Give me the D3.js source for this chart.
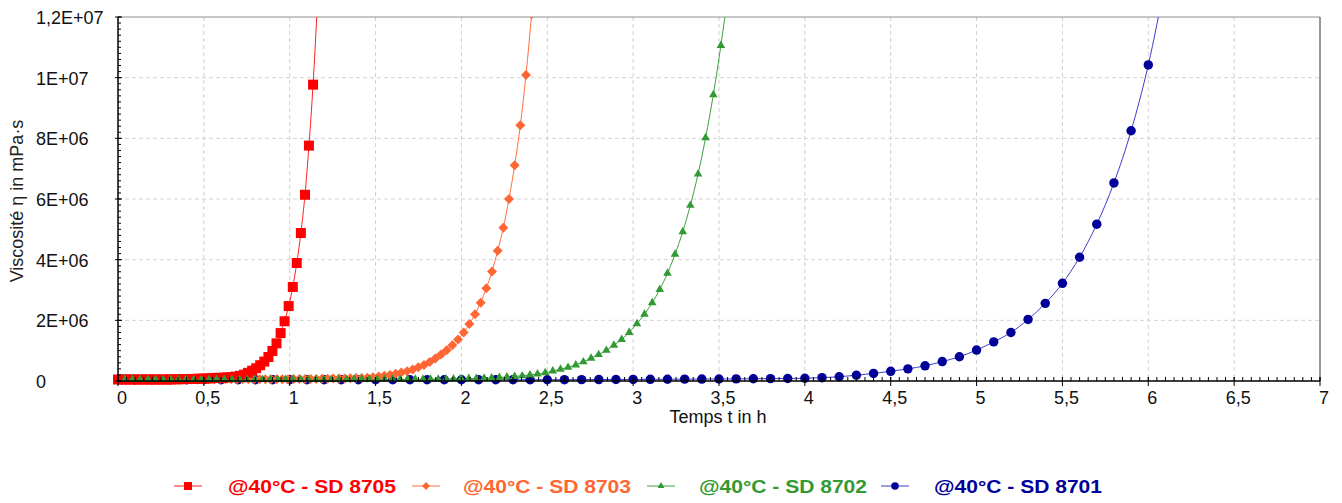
<!DOCTYPE html>
<html>
<head>
<meta charset="utf-8">
<script src="https://cdn.jsdelivr.net/npm/d3@7"></script>
<style>
  body { margin: 0; background: #fff; }
  text { font-family: "Liberation Sans", Arial, sans-serif; }
</style>
</head>
<body>
<svg id="chart" width="1342" height="503"></svg>
<script>
// time in h, viscosity in millions of mPa·s
var redT = [0, 0.024, 0.047, 0.071, 0.095, 0.118, 0.142, 0.166, 0.189, 0.213, 0.237, 0.26, 0.284, 0.308, 0.331, 0.355, 0.379, 0.402, 0.426, 0.45, 0.473, 0.497, 0.521, 0.544, 0.568, 0.592, 0.615, 0.639, 0.663, 0.686, 0.71, 0.734, 0.757, 0.781, 0.805, 0.828, 0.852, 0.876, 0.899, 0.923, 0.947, 0.97, 0.994, 1.018, 1.041, 1.065, 1.089, 1.112, 1.136, 1.16]
var redV = [0.05, 0.05, 0.05, 0.05, 0.05, 0.05, 0.05, 0.05, 0.05, 0.05, 0.05, 0.05, 0.05, 0.055, 0.055, 0.06, 0.06, 0.065, 0.065, 0.07, 0.075, 0.08, 0.085, 0.09, 0.1, 0.105, 0.11, 0.12, 0.13, 0.145, 0.17, 0.21, 0.27, 0.34, 0.42, 0.52, 0.64, 0.79, 0.99, 1.24, 1.58, 1.97, 2.47, 3.1, 3.89, 4.88, 6.14, 7.76, 9.77, 12.3]

var orangeT = [0, 0.033, 0.066, 0.099, 0.132, 0.165, 0.198, 0.231, 0.264, 0.297, 0.33, 0.363, 0.396, 0.429, 0.462, 0.495, 0.528, 0.561, 0.594, 0.627, 0.66, 0.693, 0.726, 0.759, 0.792, 0.825, 0.858, 0.891, 0.924, 0.957, 0.99, 1.023, 1.056, 1.089, 1.122, 1.155, 1.188, 1.221, 1.254, 1.287, 1.32, 1.353, 1.386, 1.419, 1.452, 1.485, 1.518, 1.551, 1.584, 1.617, 1.65, 1.683, 1.716, 1.749, 1.782, 1.815, 1.848, 1.881, 1.914, 1.947, 1.98, 2.013, 2.046, 2.079, 2.112, 2.145, 2.178, 2.211, 2.244, 2.277, 2.31, 2.343, 2.376, 2.409]
var orangeV = [0.05, 0.05, 0.05, 0.05, 0.05, 0.05, 0.05, 0.05, 0.05, 0.05, 0.05, 0.05, 0.05, 0.05, 0.05, 0.055, 0.055, 0.055, 0.055, 0.055, 0.055, 0.055, 0.055, 0.055, 0.055, 0.06, 0.06, 0.06, 0.06, 0.06, 0.06, 0.065, 0.065, 0.07, 0.07, 0.07, 0.075, 0.075, 0.08, 0.08, 0.085, 0.09, 0.095, 0.1, 0.11, 0.125, 0.145, 0.17, 0.2, 0.24, 0.28, 0.32, 0.38, 0.45, 0.53, 0.63, 0.74, 0.87, 1.01, 1.18, 1.37, 1.6, 1.88, 2.2, 2.58, 3.06, 3.61, 4.29, 5.05, 6.0, 7.11, 8.43, 10.09, 12.1]

var greenT = [0.04, 0.085, 0.129, 0.174, 0.218, 0.263, 0.307, 0.352, 0.396, 0.441, 0.485, 0.53, 0.574, 0.619, 0.663, 0.708, 0.752, 0.797, 0.841, 0.886, 0.93, 0.975, 1.019, 1.064, 1.108, 1.153, 1.197, 1.242, 1.286, 1.331, 1.375, 1.42, 1.464, 1.509, 1.553, 1.598, 1.642, 1.687, 1.731, 1.776, 1.82, 1.865, 1.909, 1.954, 1.998, 2.043, 2.087, 2.132, 2.176, 2.221, 2.265, 2.31, 2.354, 2.399, 2.443, 2.488, 2.532, 2.577, 2.621, 2.666, 2.71, 2.755, 2.799, 2.844, 2.888, 2.933, 2.977, 3.022, 3.066, 3.111, 3.155, 3.2, 3.244, 3.289, 3.333, 3.378, 3.422, 3.467, 3.511, 3.556]
var greenV = [0.05, 0.05, 0.05, 0.05, 0.05, 0.05, 0.05, 0.05, 0.05, 0.05, 0.05, 0.05, 0.05, 0.05, 0.05, 0.05, 0.05, 0.05, 0.05, 0.05, 0.05, 0.05, 0.05, 0.05, 0.05, 0.05, 0.05, 0.05, 0.05, 0.05, 0.055, 0.055, 0.055, 0.055, 0.055, 0.055, 0.055, 0.055, 0.055, 0.055, 0.06, 0.06, 0.065, 0.07, 0.075, 0.08, 0.085, 0.09, 0.1, 0.115, 0.13, 0.15, 0.17, 0.2, 0.23, 0.27, 0.33, 0.39, 0.45, 0.53, 0.63, 0.75, 0.87, 1.01, 1.18, 1.37, 1.6, 1.89, 2.2, 2.58, 3.02, 3.55, 4.18, 4.92, 5.79, 6.82, 8.02, 9.44, 11.06, 12.9]

var blueT = [0, 0.1, 0.2, 0.3, 0.4, 0.5, 0.6, 0.7, 0.8, 0.9, 1, 1.1, 1.2, 1.3, 1.4, 1.5, 1.6, 1.7, 1.8, 1.9, 2, 2.1, 2.2, 2.3, 2.4, 2.5, 2.6, 2.7, 2.8, 2.9, 3, 3.1, 3.2, 3.3, 3.4, 3.5, 3.6, 3.7, 3.8, 3.9, 4, 4.1, 4.2, 4.3, 4.4, 4.5, 4.6, 4.7, 4.8, 4.9, 5, 5.1, 5.2, 5.3, 5.4, 5.5, 5.6, 5.7, 5.8, 5.9, 6, 6.1]
var blueV = [0.04, 0.04, 0.04, 0.04, 0.04, 0.04, 0.04, 0.04, 0.04, 0.04, 0.04, 0.04, 0.04, 0.04, 0.04, 0.04, 0.04, 0.04, 0.04, 0.04, 0.04, 0.04, 0.04, 0.04, 0.04, 0.042, 0.044, 0.046, 0.048, 0.05, 0.052, 0.055, 0.058, 0.061, 0.064, 0.067, 0.07, 0.074, 0.078, 0.083, 0.09, 0.11, 0.14, 0.19, 0.25, 0.32, 0.4, 0.5, 0.64, 0.8, 1.02, 1.29, 1.6, 2.03, 2.56, 3.22, 4.08, 5.17, 6.53, 8.25, 10.42, 13.2]

var seriesNames = ["@40°C - SD 8705", "@40°C - SD 8703", "@40°C - SD 8702", "@40°C - SD 8701"]

var xTicks = [0, 0.5, 1, 1.5, 2, 2.5, 3, 3.5, 4, 4.5, 5, 5.5, 6, 6.5, 7]
var xTickLabels = ["0", "0,5", "1", "1,5", "2", "2,5", "3", "3,5", "4", "4,5", "5", "5,5", "6", "6,5", "7"]
var yTicks = [0, 2, 4, 6, 8, 10, 12]
var yTickLabels = ["0", "2E+06", "4E+06", "6E+06", "8E+06", "1E+07", "1,2E+07"]

var margin = {top: 17, right: 22, bottom: 122, left: 118}
var width = 1342 - margin.left - margin.right
var height = 503 - margin.top - margin.bottom

var svg = d3.select("#chart")
var g = svg.append("g").attr("transform", `translate(${margin.left},${margin.top})`)

var x = d3.scaleLinear().domain([0, 7]).range([0, width])
var y = d3.scaleLinear().domain([0, 12]).range([height, 0])

var series = [
  {name: seriesNames[0], t: redT, v: redV, color: "#ff0000", line: "#ff2020", marker: "square"},
  {name: seriesNames[1], t: orangeT, v: orangeV, color: "#ff6633", line: "#ff7040", marker: "diamond"},
  {name: seriesNames[2], t: greenT, v: greenV, color: "#339933", line: "#40a040", marker: "triangle"},
  {name: seriesNames[3], t: blueT, v: blueV, color: "#000099", line: "#3c3ccc", marker: "circle"}
]

function markerPath(kind, big) {
  var k = big ? 1 : 0.8
  if (kind === "square") return d3.symbol(d3.symbolSquare, 100 * k * k)()
  if (kind === "diamond") return d3.symbol(d3.symbolSquare, 50 * k * k)()
  if (kind === "triangle") return d3.symbol(d3.symbolTriangle, 32 * k * k)()
  return d3.symbol(d3.symbolCircle, 70 * k * k)()
}

// grid
g.append("g").selectAll("line")
  .data(xTicks.filter(d => d > 0 && d < 7))
  .enter().append("line")
  .attr("x1", d => x(d)).attr("x2", d => x(d))
  .attr("y1", 0).attr("y2", height)
  .attr("stroke", "#cfcfcf").attr("stroke-dasharray", "4,3")

g.append("g").selectAll("line")
  .data(yTicks.filter(d => d > 0 && d < 12))
  .enter().append("line")
  .attr("x1", 0).attr("x2", width)
  .attr("y1", d => y(d)).attr("y2", d => y(d))
  .attr("stroke", "#d3d3d3").attr("stroke-dasharray", "4,3")

// frame
g.append("line").attr("x1", 0).attr("x2", width).attr("y1", 0).attr("y2", 0)
  .attr("stroke", "#8c8c8c")
g.append("line").attr("x1", width).attr("x2", width).attr("y1", 0).attr("y2", height)
  .attr("stroke", "#333")

// series
svg.append("defs").append("clipPath").attr("id", "plotclip")
  .append("rect").attr("x", -10).attr("y", 0).attr("width", width + 20).attr("height", height + 20)

var plot = g.append("g").attr("clip-path", "url(#plotclip)")
var drawOrder = [3, 1, 0, 2]

var line = d3.line()
  .x(d => x(d[0]))
  .y(d => y(d[1]))
  .curve(d3.curveMonotoneX)

drawOrder.forEach(function(i) {
  var s = series[i]
  var pts = s.t.map((t, j) => [t, s.v[j]])
  plot.append("path")
    .datum(pts)
    .attr("d", line)
    .attr("fill", "none")
    .attr("stroke", s.line)
    .attr("stroke-width", 1)
})

drawOrder.forEach(function(i) {
  var s = series[i]
  var pts = s.t.map((t, j) => [t, s.v[j]])
  plot.append("g").selectAll("path")
    .data(pts)
    .enter().append("path")
    .attr("d", markerPath(s.marker, true))
    .attr("transform", d => `translate(${x(d[0])},${y(d[1])})` + (s.marker === "diamond" ? " rotate(45)" : ""))
    .attr("fill", s.color)
})

// axes
var xMinor = d3.range(0, 7.001, 0.05)
g.append("g").selectAll("line")
  .data(xMinor)
  .enter().append("line")
  .attr("x1", d => x(d)).attr("x2", d => x(d))
  .attr("y1", height - 4).attr("y2", height)
  .attr("stroke", "#000")
g.append("g").selectAll("line")
  .data(xTicks)
  .enter().append("line")
  .attr("x1", d => x(d)).attr("x2", d => x(d))
  .attr("y1", height - 4).attr("y2", height + 5)
  .attr("stroke", "#000")
g.append("line").attr("x1", 0).attr("x2", width).attr("y1", height).attr("y2", height)
  .attr("stroke", "#000").attr("stroke-width", 1.5)

var yMinor = d3.range(0, 12.001, 0.2)
g.append("g").selectAll("line")
  .data(yMinor)
  .enter().append("line")
  .attr("x1", 0).attr("x2", 3)
  .attr("y1", d => y(d)).attr("y2", d => y(d))
  .attr("stroke", "#000")
g.append("g").selectAll("line")
  .data(yTicks)
  .enter().append("line")
  .attr("x1", -3).attr("x2", 4)
  .attr("y1", d => y(d)).attr("y2", d => y(d))
  .attr("stroke", "#000")
g.append("line").attr("x1", 0).attr("x2", 0).attr("y1", 0).attr("y2", height)
  .attr("stroke", "#000").attr("stroke-width", 1.5)

g.append("g").selectAll("text")
  .data(xTicks)
  .enter().append("text")
  .attr("x", d => x(d) + 4)
  .attr("y", height + 23)
  .attr("text-anchor", "middle")
  .attr("font-size", 18)
  .attr("fill", "#111")
  .text((d, i) => xTickLabels[i])

g.append("g").selectAll("text")
  .data(yTicks)
  .enter().append("text")
  .attr("x", 36 - margin.left)
  .attr("y", d => y(d) + 7)
  .attr("font-size", 18)
  .attr("fill", "#111")
  .text((d, i) => yTickLabels[i])

svg.append("text")
  .attr("x", 718).attr("y", 423)
  .attr("text-anchor", "middle")
  .attr("font-size", 18)
  .attr("fill", "#111")
  .text("Temps t in h")

svg.append("text")
  .attr("transform", "translate(23,201) rotate(-90)")
  .attr("text-anchor", "middle")
  .attr("font-size", 18)
  .attr("fill", "#222")
  .text("Viscosité η in mPa·s")

// legend
var legendMarkX = [188, 426, 661, 895]
var legendTextX = [228, 463, 699, 934]
var legend = svg.append("g")
series.forEach(function(s, i) {
  var lg = legend.append("g")
  lg.append("line")
    .attr("x1", legendMarkX[i] - 14).attr("x2", legendMarkX[i] + 14)
    .attr("y1", 486).attr("y2", 486)
    .attr("stroke", s.line)
  lg.append("path")
    .attr("d", markerPath(s.marker, false))
    .attr("transform", `translate(${legendMarkX[i]},486)` + (s.marker === "diamond" ? " rotate(45)" : ""))
    .attr("fill", s.color)
  lg.append("text")
    .attr("x", legendTextX[i]).attr("y", 493)
    .attr("font-size", 19)
    .attr("font-weight", "bold")
    .attr("fill", s.color)
    .attr("textLength", 168)
    .attr("lengthAdjust", "spacingAndGlyphs")
    .text(s.name)
})
</script>
</body>
</html>
